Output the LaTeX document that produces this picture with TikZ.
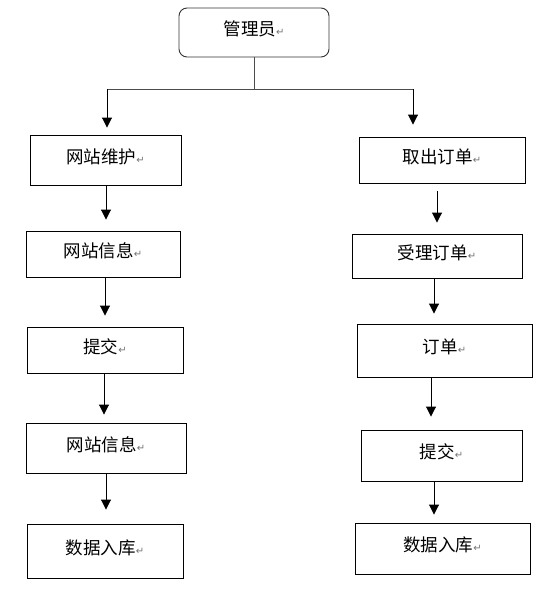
\documentclass[tikz,border=0pt]{standalone}
\usepackage{fontspec}
\setmainfont{Noto Sans CJK SC}
\newfontfamily\symfont{DejaVu Sans}
\usetikzlibrary{arrows.meta}
\newcommand{\ret}{{\symfont\fontsize{10pt}{10pt}\selectfont\color{black!55}↵}}
\tikzset{
  box/.style={draw=black, line width=0.9pt, inner sep=0pt, text height=16pt, text depth=10pt,
    font=\fontsize{17.5pt}{19pt}\selectfont},
  flow/.style={draw=black, line width=0.9pt, -{Triangle[length=10pt, width=10pt]}},
}
\begin{document}
\begin{tikzpicture}[x=1pt, y=-1pt, line join=miter]
  \useasboundingbox (0,0) rectangle (549,589);
  % Kopf
  \node[box, rounded corners=8pt, draw=black!80, minimum width=150pt, minimum height=49pt] (admin) at (254,32.5) {管理员\ret};
  % linke Spalte
  \node[box, minimum width=151pt, minimum height=50pt] (l1) at (105.5,160) {网站维护\ret};
  \node[box, minimum width=154pt, minimum height=46pt] (l2) at (103,254) {网站信息\ret};
  \node[box, minimum width=156pt, minimum height=46pt] (l3) at (105,350) {提交\ret};
  \node[box, minimum width=160pt, minimum height=50pt] (l4) at (106,448) {网站信息\ret};
  \node[box, minimum width=156pt, minimum height=54pt] (l5) at (105,551) {数据入库\ret};
  % rechte Spalte
  \node[box, minimum width=166pt, minimum height=46pt] (r1) at (442,160) {取出订单\ret};
  \node[box, minimum width=170pt, minimum height=44pt] (r2) at (437,256) {受理订单\ret};
  \node[box, minimum width=175pt, minimum height=53pt] (r3) at (444.5,350.5) {订单\ret};
  \node[box, minimum width=161pt, minimum height=51pt] (r4) at (441.5,455.5) {提交\ret};
  \node[box, minimum width=175pt, minimum height=51pt] (r5) at (442.5,548.5) {数据入库\ret};
  % Verzweigung
  \coordinate (fork) at (254,89);
  \draw[line width=0.9pt, draw=black!70] (admin.south) -- (fork) (fork -| 107,0) -- (fork -| 413,0);
  \draw[flow, shorten >=7pt] (fork -| 107,0) -- (l1.north -| 107,0);
  \draw[flow, shorten >=12pt] (fork -| 413,0) -- (r1.north -| 413,0);
  % Pfeile links
  \draw[flow, shorten >=11pt] (l1.south -| 106,0) -- (l2.north -| 106,0);
  \draw[flow, shorten >=11pt] (l2.south -| 105,0) -- (l3.north -| 105,0);
  \draw[flow, shorten >=8pt] (l3.south -| 104,0) -- (l4.north -| 104,0);
  \draw[flow, shorten >=14pt] (l4.south -| 106,0) -- (l5.north -| 106,0);
  % Pfeile rechts
  \draw[flow, shorten <=8pt, shorten >=11pt] (r1.south -| 437,0) -- (r2.north -| 437,0);
  \draw[flow, shorten >=10pt] (r2.south -| 434,0) -- (r3.north -| 434,0);
  \draw[flow, shorten >=13pt] (r3.south -| 431,0) -- (r4.north -| 431,0);
  \draw[flow, shorten >=8pt] (r4.south -| 434,0) -- (r5.north -| 434,0);
\end{tikzpicture}
\end{document}
